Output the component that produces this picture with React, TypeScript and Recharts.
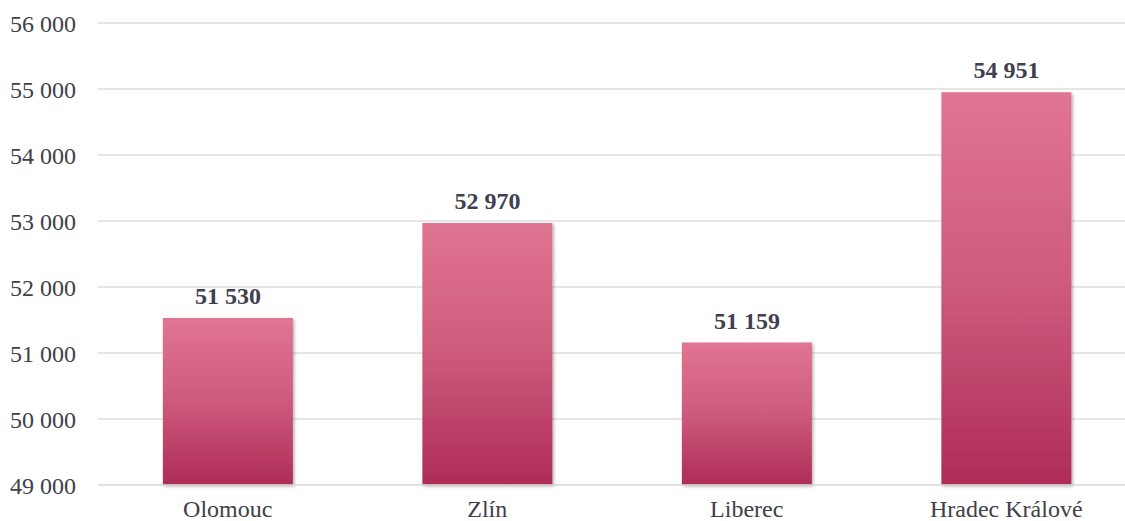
import { BarChart, Bar, XAxis, YAxis, CartesianGrid, LabelList } from "recharts";

const regions = ["Olomouc", "Zlín", "Liberec", "Hradec Králové"];
const wages = [51530, 52970, 51159, 54951];
const yTicks = [49000, 50000, 51000, 52000, 53000, 54000, 55000, 56000];

const data = regions.map((name, i) => ({ name, value: wages[i] }));

const fmt = (v: number) => String(v).replace(/\B(?=(\d{3})+(?!\d))/g, " ");

const serif = "'Liberation Serif', 'Times New Roman', serif";

const App = () => {
  return (
    <div style={{ position: "absolute", left: 0, top: 0, width: 1125, height: 521, overflow: "hidden", background: "#fff" }}>
      <BarChart
        width={1136}
        height={521}
        data={data}
        margin={{ top: 23, right: 0, bottom: 6, left: 0 }}
        barCategoryGap="25%"
      >
        <defs>
          <linearGradient id="barFill" x1="0" y1="0" x2="0" y2="1">
            <stop offset="0%" stopColor="#e07593" />
            <stop offset="50%" stopColor="#cd5a7c" />
            <stop offset="100%" stopColor="#ae2c56" />
          </linearGradient>
          <filter id="shadow" x="-10%" y="-10%" width="130%" height="130%">
            <feDropShadow dx="1.5" dy="1.5" stdDeviation="1.5" floodColor="#000" floodOpacity="0.3" />
          </filter>
        </defs>
        <CartesianGrid vertical={false} stroke="#dedede" strokeWidth={1.5} />
        <XAxis
          dataKey="name"
          height={30}
          axisLine={{ stroke: "#dedede", strokeWidth: 1.5 }}
          tickLine={false}
          tick={{ fill: "#404048", fontSize: 24, fontFamily: serif }}
          tickMargin={9}
        />
        <YAxis
          width={98}
          domain={[49000, 56000]}
          ticks={yTicks}
          axisLine={false}
          tickLine={false}
          tickFormatter={fmt}
          tickMargin={16}
          tick={{ fill: "#404048", fontSize: 24, fontFamily: serif }}
        />
        <Bar dataKey="value" fill="url(#barFill)" filter="url(#shadow)" isAnimationActive={false}>
          <LabelList
            dataKey="value"
            position="top"
            offset={14}
            formatter={(v: any) => fmt(Number(v))}
            style={{ fill: "#404050", fontSize: 24, fontWeight: "bold", fontFamily: serif }}
          />
        </Bar>
      </BarChart>
    </div>
  );
};

export default App;
